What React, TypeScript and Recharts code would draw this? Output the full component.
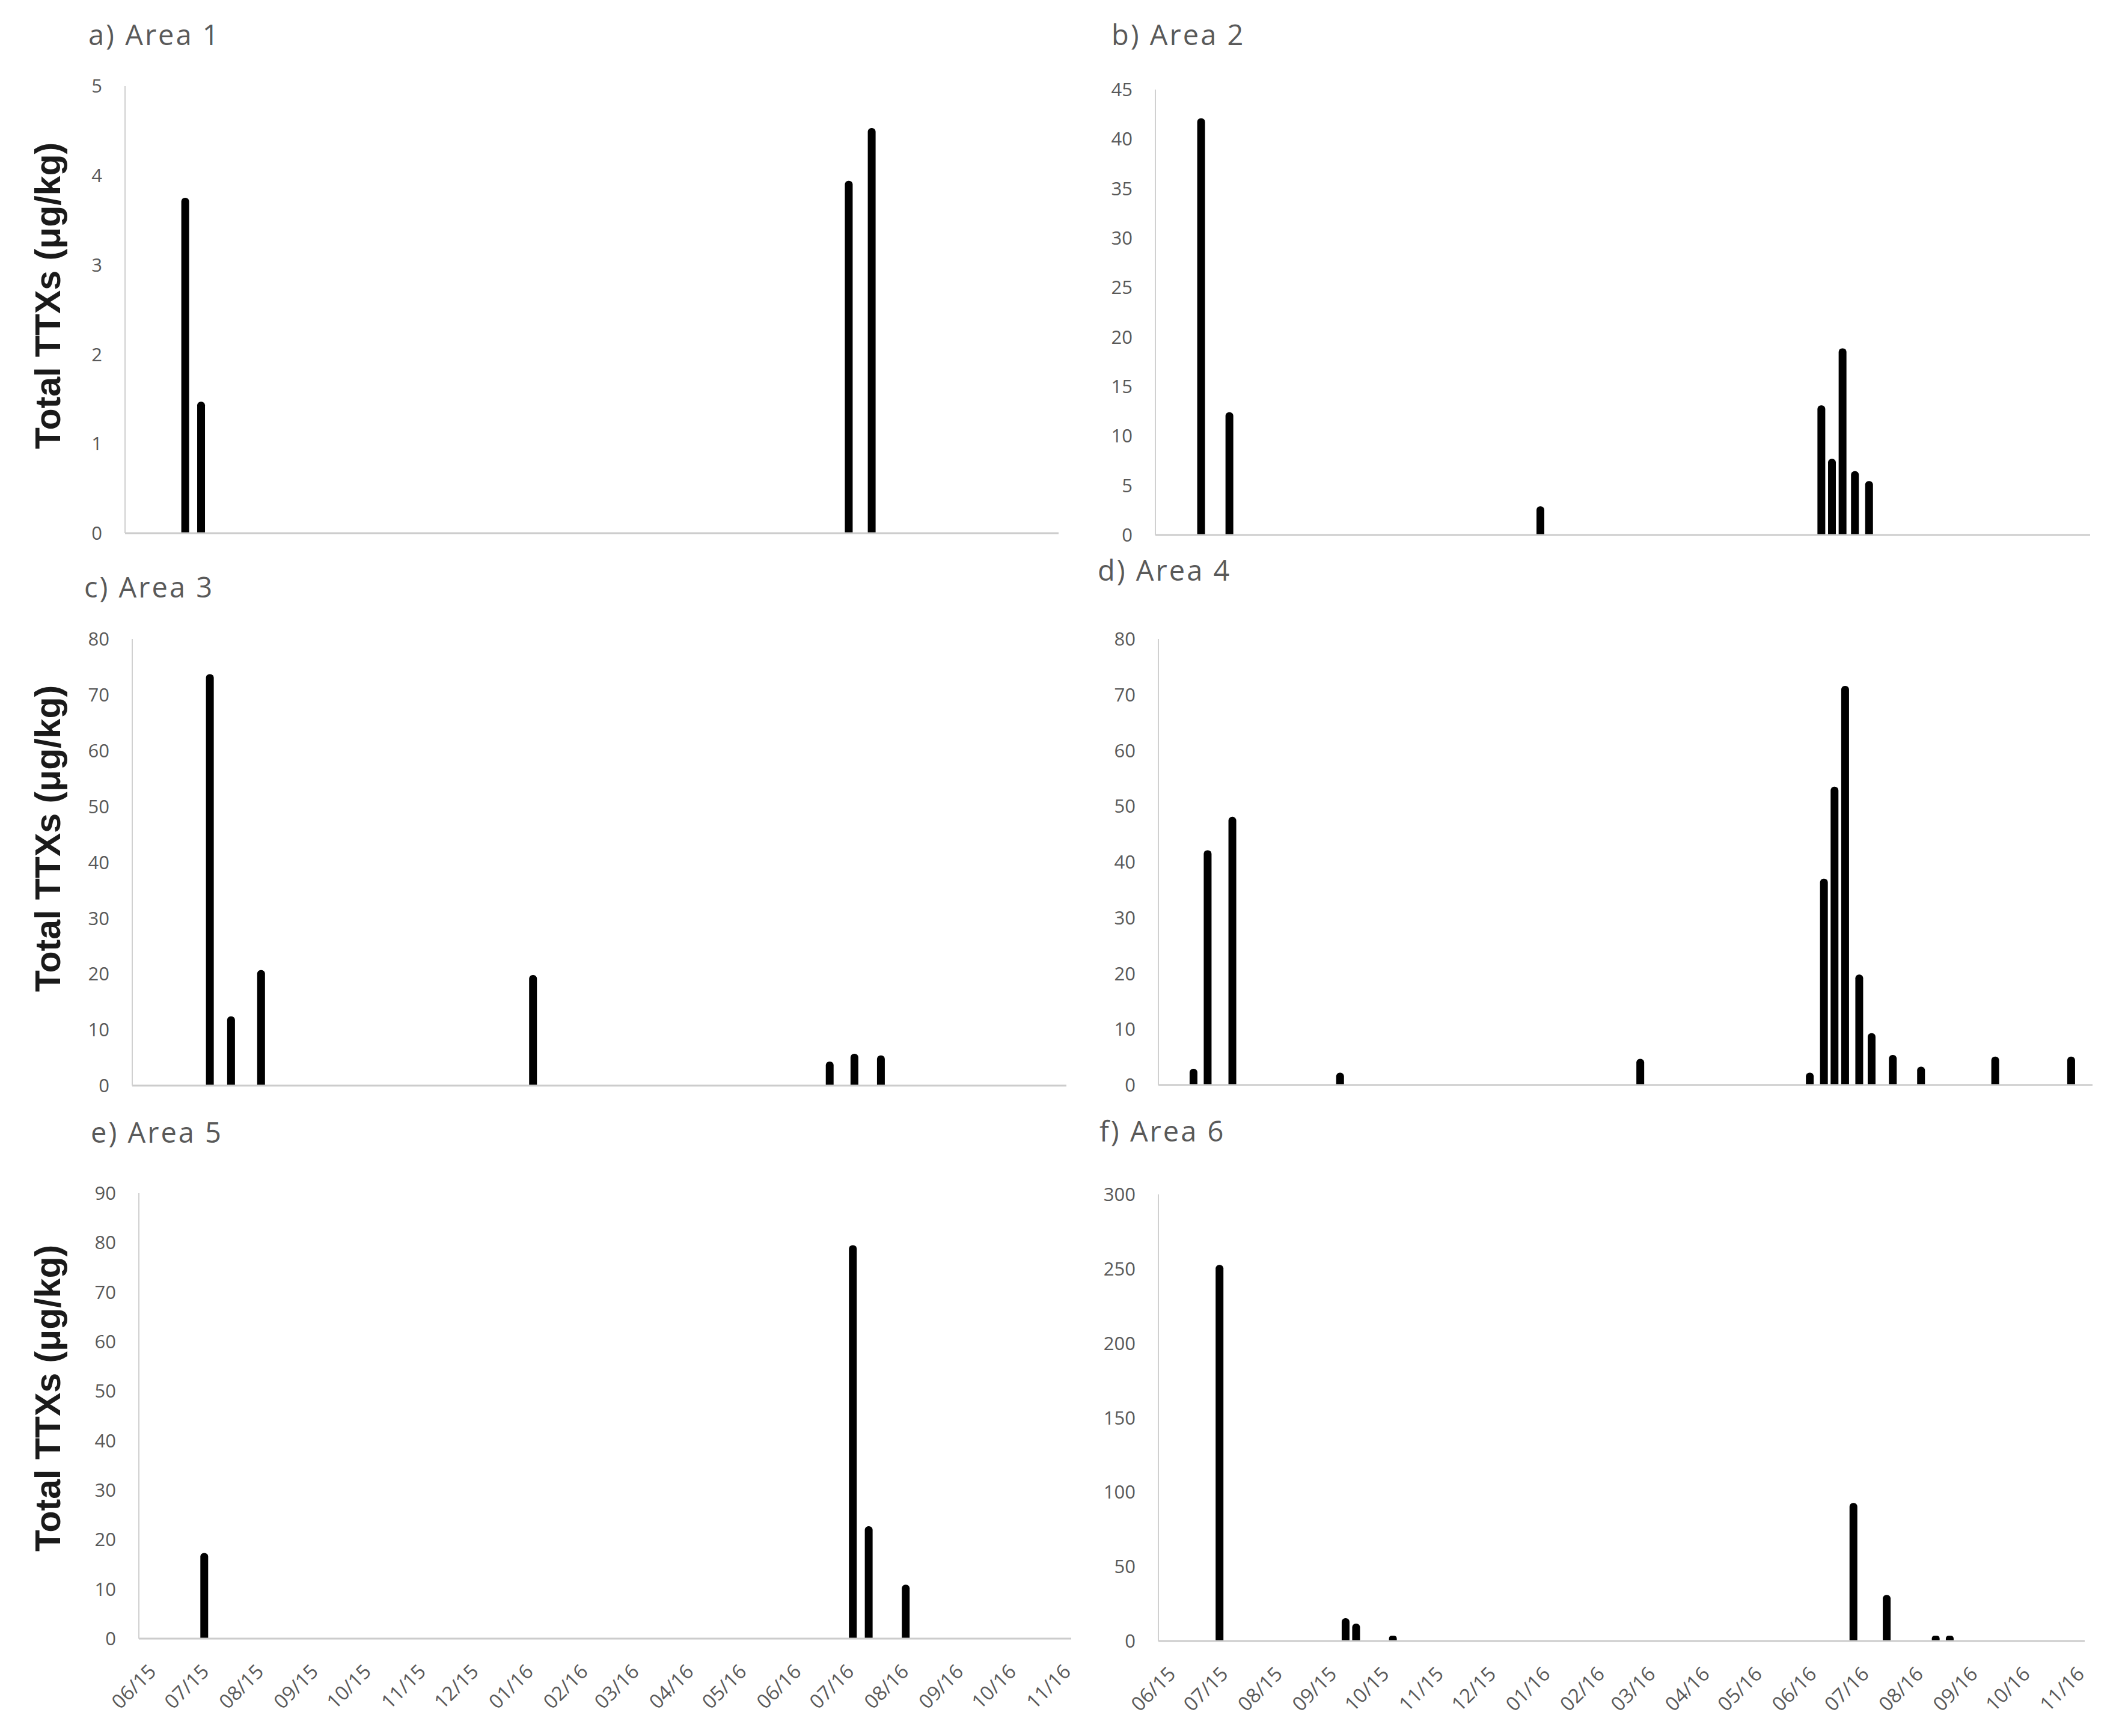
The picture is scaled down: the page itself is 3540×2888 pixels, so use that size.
import { BarChart, Bar, XAxis, YAxis } from 'recharts';

// month labels along the date axis (mm/yy)
const monthLabels = [
  '06/15', '07/15', '08/15', '09/15', '10/15', '11/15', '12/15', '01/16', '02/16',
  '03/16', '04/16', '05/16', '06/16', '07/16', '08/16', '09/16', '10/16', '11/16',
];
const axisStart = '2015-05-27';
const axisEnd = '2016-11-06';

// Area 1
const area1Dates = ['2015-06-30', '2015-07-09', '2016-07-10', '2016-07-23'];
const area1Values = [3.75, 1.47, 3.94, 4.53];
const area1Ticks = [0, 1, 2, 3, 4, 5];

// Area 2
const area2Dates = ['2015-06-22', '2015-07-08', '2015-12-31', '2016-06-07', '2016-06-13', '2016-06-19', '2016-06-26', '2016-07-04'];
const area2Values = [42.1, 12.4, 2.9, 13.1, 7.7, 18.85, 6.45, 5.45];
const area2Ticks = [0, 5, 10, 15, 20, 25, 30, 35, 40, 45];

// Area 3
const area3Dates = ['2015-07-10', '2015-07-22', '2015-08-08', '2016-01-09', '2016-06-25', '2016-07-09', '2016-07-24'];
const area3Values = [73.7, 12.4, 20.7, 19.8, 4.3, 5.7, 5.4];
const area3Ticks = [0, 10, 20, 30, 40, 50, 60, 70, 80];

// Area 4
const area4Dates = [
  '2015-06-16', '2015-06-24', '2015-07-08', '2015-09-07', '2016-02-24', '2016-05-30', '2016-06-07', '2016-06-13',
  '2016-06-19', '2016-06-27', '2016-07-04', '2016-07-16', '2016-08-01', '2016-09-12', '2016-10-25',
];
const area4Values = [2.9, 42.1, 48.1, 2.2, 4.7, 2.2, 37.0, 53.5, 71.6, 19.8, 9.3, 5.4, 3.3, 5.1, 5.1];
const area4Ticks = [0, 10, 20, 30, 40, 50, 60, 70, 80];

// Area 5
const area5Dates = ['2015-07-03', '2016-07-05', '2016-07-14', '2016-08-04'];
const area5Values = [17.3, 79.5, 22.7, 10.9];
const area5Ticks = [0, 10, 20, 30, 40, 50, 60, 70, 80, 90];

// Area 6
const area6Dates = ['2015-07-01', '2015-09-11', '2015-09-17', '2015-10-08', '2016-06-27', '2016-07-16', '2016-08-13', '2016-08-21'];
const area6Values = [252.7, 15.3, 11.7, 3.5, 92.8, 31.0, 3.5, 3.5];
const area6Ticks = [0, 50, 100, 150, 200, 250, 300];

const yAxisTitle = 'Total TTXs (μg/kg)';

const toTime = (d: string) => Date.parse(d + 'T00:00:00Z');
const monthTicks = monthLabels.map((l) => Date.UTC(2000 + Number(l.slice(3)), Number(l.slice(0, 2)) - 1, 1));
const labelByTime = new Map(monthTicks.map((t, i) => [t, monthLabels[i]]));

const GREY = '#595959';
const FONT = "'Open Sans', 'Noto Sans', sans-serif";

const YTick = ({ x, y, payload }: any) => (
  <text x={x - 38} y={y} dy="0.36em" textAnchor="end" fill={GREY} fontSize={31} fontFamily={FONT}>
    {payload.value}
  </text>
);

const XTick = ({ x, y, payload }: any) => {
  const ax = x + 16;
  const ay = y + 57;
  return (
    <text x={ax} y={ay} textAnchor="end" transform={`rotate(-45, ${ax}, ${ay})`} fill={GREY} fontSize={33} fontFamily={FONT}>
      {labelByTime.get(payload.value)}
    </text>
  );
};

const panels = [
  { title: 'a) Area 1', dates: area1Dates, values: area1Values, ticks: area1Ticks, x0: 208, y0: 143, x1: 1761, y1: 887, tx: 147, ty: 59, labelY: 492, dates2: false },
  { title: 'b) Area 2', dates: area2Dates, values: area2Values, ticks: area2Ticks, x0: 1922, y0: 149, x1: 3477, y1: 890, tx: 1849, ty: 59, labelY: 0, dates2: false },
  { title: 'c) Area 3', dates: area3Dates, values: area3Values, ticks: area3Ticks, x0: 220, y0: 1063, x1: 1774, y1: 1806, tx: 140, ty: 978, labelY: 1395, dates2: false },
  { title: 'd) Area 4', dates: area4Dates, values: area4Values, ticks: area4Ticks, x0: 1927, y0: 1063, x1: 3481, y1: 1805, tx: 1826, ty: 950, labelY: 0, dates2: false },
  { title: 'e) Area 5', dates: area5Dates, values: area5Values, ticks: area5Ticks, x0: 231, y0: 1985, x1: 1782, y1: 2726, tx: 151, ty: 1885, labelY: 2326, dates2: true },
  { title: 'f) Area 6', dates: area6Dates, values: area6Values, ticks: area6Ticks, x0: 1927, y0: 1987, x1: 3468, y1: 2730, tx: 1829, ty: 1883, labelY: 0, dates2: true },
];

const Panel = ({ p }: { p: (typeof panels)[number] }) => {
  const data = p.dates.map((d, i) => ({ date: toTime(d), v: p.values[i] }));
  const xh = p.dates2 ? 150 : 30;
  const width = p.x1 - p.x0 + 230;
  const height = p.y1 - p.y0 + 30 + xh;
  const yMax = p.ticks[p.ticks.length - 1];
  return (
    <div style={{ position: 'absolute', left: p.x0 - 200, top: p.y0 - 30 }}>
      <BarChart width={width} height={height} data={data} margin={{ top: 30, right: 30, left: 0, bottom: 0 }}>
        <XAxis
          type="number"
          dataKey="date"
          domain={[toTime(axisStart), toTime(axisEnd)]}
          ticks={monthTicks}
          interval={0}
          allowDataOverflow
          height={xh}
          tickLine={false}
          tickSize={0}
          tickMargin={0}
          tick={p.dates2 ? (props: any) => <XTick {...props} /> : false}
          axisLine={{ stroke: '#cccccc', strokeWidth: 3 }}
        />
        <YAxis
          type="number"
          domain={[0, yMax]}
          ticks={p.ticks}
          interval={0}
          width={200}
          tickLine={false}
          tickSize={0}
          tickMargin={0}
          tick={(props: any) => <YTick {...props} />}
          axisLine={{ stroke: '#d0d0d0', strokeWidth: 2 }}
        />
        <Bar dataKey="v" fill="#000000" barSize={13} radius={[6, 6, 0, 0]} isAnimationActive={false} />
      </BarChart>
    </div>
  );
};

const App = () => {
  return (
    <div style={{ position: 'absolute', left: 0, top: 0, width: 3540, height: 2888, background: '#ffffff' }}>
      {panels.map((p) => (
        <Panel key={p.title} p={p} />
      ))}
      {/* titles and y-axis captions */}
      <svg width={3540} height={2888} style={{ position: 'absolute', left: 0, top: 0, pointerEvents: 'none' }}>
        {panels.map((p) => (
          <text key={p.title} x={p.tx} y={p.ty + 16} fill={GREY} fontSize={47} fontFamily={FONT} letterSpacing={3}>
            {p.title}
          </text>
        ))}
        {panels
          .filter((p) => p.labelY > 0)
          .map((p) => (
            <text
              key={'yl' + p.title}
              x={100}
              y={p.labelY}
              transform={`rotate(-90, 100, ${p.labelY})`}
              textAnchor="middle"
              fill="#1a1a1a"
              fontSize={59}
              fontWeight="bold"
              fontFamily="'Liberation Sans', Arial, sans-serif"
            >
              {yAxisTitle}
            </text>
          ))}
      </svg>
    </div>
  );
};

export default App;
